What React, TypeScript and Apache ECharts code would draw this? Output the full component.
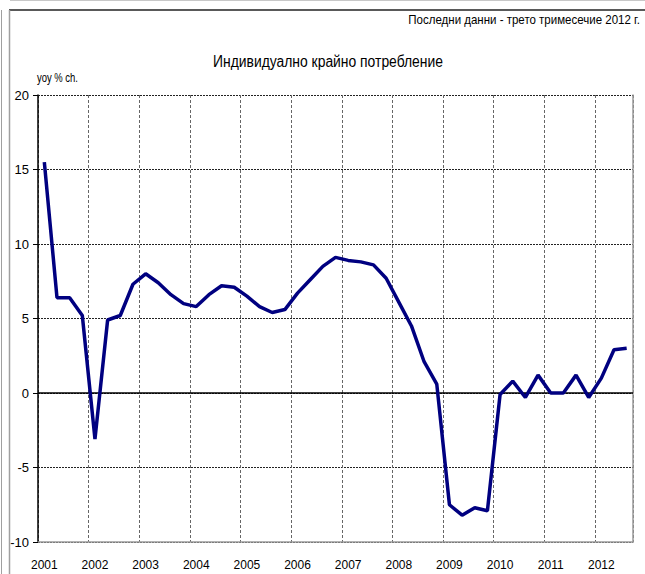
import React, { useEffect, useRef } from "react";
import * as echarts from "echarts";

const years = ["2001", "2002", "2003", "2004", "2005", "2006", "2007", "2008", "2009", "2010", "2011", "2012"];
const quarters = ["Q1", "Q2", "Q3", "Q4"];
const lastQuarterCount = 3; // data ends in Q3 2012

const consumption = [
  15.5, 6.4, 6.4, 5.2,
  -3.1, 4.9, 5.2, 7.3,
  8.0, 7.4, 6.6, 6.0,
  5.8, 6.6, 7.2, 7.1,
  6.5, 5.8, 5.4, 5.6,
  6.7, 7.6, 8.5, 9.1,
  8.9, 8.8, 8.6, 7.7,
  6.1, 4.5, 2.1, 0.6,
  -7.5, -8.2, -7.7, -7.9,
  -0.1, 0.8, -0.3, 1.2,
  0.0, 0.0, 1.2, -0.3,
  1.0, 2.9, 3.0,
];

const yTicks = { min: -10, max: 20, interval: 5 };

const titleText = "Индивидуално крайно потребление";
const noteText = "Последни данни - трето тримесечие 2012 г.";
const unitText = "yoy % ch.";

const FONT = '"Liberation Sans", Arial, sans-serif';

function measure(text: string, size: number): number {
  const c = document.createElement("canvas").getContext("2d");
  if (!c) return text.length * size * 0.5;
  c.font = `${size}px "Liberation Sans", Arial, sans-serif`;
  return c.measureText(text).width;
}

export default function App() {
  const ref = useRef<HTMLDivElement>(null);
  useEffect(() => {
    if (!ref.current) return;
    const chart = echarts.init(ref.current, null, { renderer: "svg" });
    const categories: string[] = [];
    years.forEach((y, yi) => {
      const n = yi === years.length - 1 ? lastQuarterCount : quarters.length;
      for (let q = 0; q < n; q++) categories.push(y + " " + quarters[q]);
    });

    const titleSize = 16;
    const noteSize = 12.5;
    const unitSize = 13;
    const titleScale = Math.min(1, 230 / measure(titleText, titleSize));
    const noteScale = Math.min(1, 232 / measure(noteText, noteSize));
    const unitScale = Math.min(1, 41 / measure(unitText, unitSize));

    chart.setOption({
      animation: false,
      backgroundColor: "#ffffff",
      textStyle: { fontFamily: FONT },
      graphic: [
        { type: "line", shape: { x1: 10, y1: 0.5, x2: 645, y2: 0.5 }, style: { stroke: "#c8c8c8", lineWidth: 1 } },
        { type: "line", shape: { x1: 9, y1: 10, x2: 645, y2: 10 }, style: { stroke: "#222", lineWidth: 1.5 } },
        { type: "line", shape: { x1: 1.5, y1: 10, x2: 1.5, y2: 574 }, style: { stroke: "#a0a0a0", lineWidth: 1 } },
        { type: "line", shape: { x1: 9.5, y1: 10, x2: 9.5, y2: 574 }, style: { stroke: "#a0a0a0", lineWidth: 1.5 } },
        {
          type: "text",
          x: 640,
          y: 20,
          scaleX: noteScale,
          style: { text: noteText, x: 0, y: 0, align: "right", verticalAlign: "middle", font: `${noteSize}px ${FONT}`, fill: "#000" },
        },
        {
          type: "text",
          x: 328,
          y: 61,
          scaleX: titleScale,
          style: { text: titleText, x: 0, y: 0, align: "center", verticalAlign: "middle", font: `${titleSize}px ${FONT}`, fill: "#000" },
        },
        {
          type: "text",
          x: 37,
          y: 77,
          scaleX: unitScale,
          style: { text: unitText, x: 0, y: 0, align: "left", verticalAlign: "middle", font: `${unitSize}px ${FONT}`, fill: "#000" },
        },
      ],
      grid: { left: 38, right: 12, top: 95, bottom: 32, containLabel: false },
      xAxis: {
        type: "category",
        data: categories,
        boundaryGap: true,
        axisLine: { show: true, onZero: false, lineStyle: { color: "#9a9a9a", width: 1.5 } },
        axisTick: { show: false },
        axisLabel: {
          interval: 3,
          margin: 17,
          fontFamily: FONT,
          fontSize: 12,
          color: "#000",
          formatter: (v: string) => v.slice(0, 4),
        },
        splitLine: {
          show: true,
          interval: 3,
          lineStyle: { color: "#666", type: [3, 2], width: 1 },
        },
      },
      yAxis: [
        {
          type: "value",
          min: yTicks.min,
          max: yTicks.max,
          interval: yTicks.interval,
          axisLine: { show: true, lineStyle: { color: "#000", width: 1.5 } },
          axisTick: { show: true, inside: false, length: 5, lineStyle: { color: "#000" } },
          axisLabel: { margin: 9, fontFamily: FONT, fontSize: 13, color: "#000" },
          splitLine: { show: true, lineStyle: { color: "#222", type: [2, 1], width: 1 } },
        },
        {
          type: "value",
          min: yTicks.min,
          max: yTicks.max,
          interval: yTicks.interval,
          position: "right",
          axisLine: { show: true, lineStyle: { color: "#9a9a9a", width: 1.5 } },
          axisTick: { show: false },
          axisLabel: { show: false },
          splitLine: { show: false },
        },
      ],
      series: [
        {
          type: "line",
          data: consumption,
          yAxisIndex: 0,
          symbol: "none",
          lineStyle: { color: "#000080", width: 3.5 },
          itemStyle: { color: "#000080" },
          z: 3,
          markLine: {
            silent: true,
            symbol: "none",
            label: { show: false },
            lineStyle: { color: "#000", type: "solid", width: 1.5 },
            data: [{ yAxis: 0 }],
            z: 2,
          },
        },
      ],
    });
    return () => chart.dispose();
  }, []);
  return (
    <div
      ref={ref}
      style={{ position: "fixed", left: 0, top: 0, width: 645, height: 574 }}
    />
  );
}
